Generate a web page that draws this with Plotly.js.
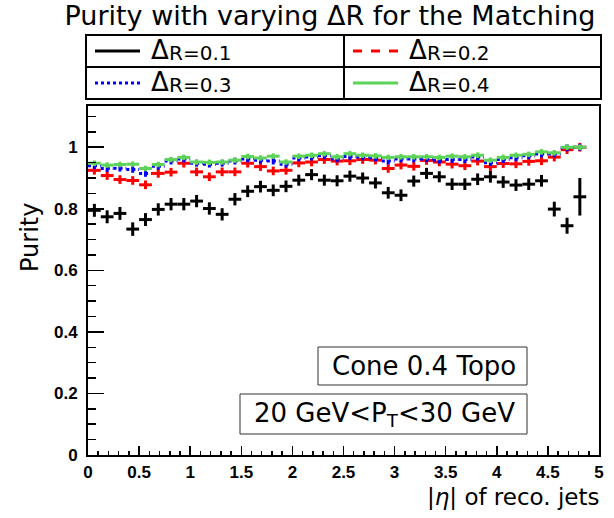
<!DOCTYPE html>
<html>
<head>
<meta charset="utf-8">
<script src="https://cdn.plot.ly/plotly-3.0.1.min.js"></script>
<style>
  html, body { margin: 0; padding: 0; background: #fff; }
  #chart { width: 614px; height: 518px; }
</style>
</head>
<body>
<div id="chart"></div>
<script>
// |eta| binning: 40 bins of width 0.125 between 0 and 5
const binWidth = 0.125;
const nBins = 40;

// Purity per |eta| bin for each matching cone size (null = empty bin)
const purityDR01 = [0.795, 0.774, 0.785, 0.734, 0.765, 0.798, 0.815, 0.815, 0.825, 0.801,
                    0.782, 0.831, 0.857, 0.872, 0.860, 0.873, 0.893, 0.911, 0.893, 0.891,
                    0.906, 0.900, 0.884, 0.852, 0.844, 0.890, 0.915, 0.904, 0.880, 0.880,
                    0.896, 0.904, 0.887, 0.877, 0.880, 0.891, 0.799, 0.745, 0.839, null];
const errDR01    = [0.021, 0.021, 0.021, 0.022, 0.021, 0.020, 0.020, 0.020, 0.020, 0.020,
                    0.020, 0.020, 0.019, 0.019, 0.019, 0.019, 0.018, 0.018, 0.018, 0.018,
                    0.018, 0.018, 0.018, 0.019, 0.019, 0.018, 0.018, 0.018, 0.019, 0.019,
                    0.019, 0.019, 0.019, 0.019, 0.019, 0.019, 0.024, 0.026, 0.061, null];

const purityDR02 = [0.925, 0.908, 0.895, 0.892, 0.878, 0.915, 0.919, 0.948, 0.920, 0.904,
                    0.920, 0.920, 0.948, 0.937, 0.923, 0.925, 0.949, 0.952, 0.960, 0.955,
                    0.956, 0.960, 0.958, 0.931, 0.942, 0.938, 0.957, 0.952, 0.945, 0.940,
                    0.955, 0.937, 0.947, 0.946, 0.954, 0.956, 0.968, 0.992, 1.000, null];
const errDR02    = 0.014;

const purityDR03 = [0.940, 0.931, 0.932, 0.928, 0.915, 0.938, 0.955, 0.962, 0.948, 0.945,
                    0.948, 0.955, 0.962, 0.958, 0.955, 0.945, 0.965, 0.968, 0.972, 0.962,
                    0.970, 0.968, 0.965, 0.955, 0.962, 0.962, 0.962, 0.958, 0.960, 0.960,
                    0.968, 0.950, 0.960, 0.966, 0.972, 0.978, 0.978, 0.998, 1.000, null];
const errDR03    = 0.011;

const purityDR04 = [0.948, 0.942, 0.944, 0.945, 0.931, 0.944, 0.960, 0.967, 0.952, 0.951,
                    0.952, 0.958, 0.970, 0.965, 0.971, 0.952, 0.971, 0.974, 0.979, 0.969,
                    0.979, 0.974, 0.972, 0.967, 0.969, 0.969, 0.969, 0.967, 0.971, 0.969,
                    0.974, 0.958, 0.967, 0.974, 0.977, 0.985, 0.982, 1.000, 1.000, null];
const errDR04    = 0.009;

const legendLabels = ['R=0.1', 'R=0.2', 'R=0.3', 'R=0.4'];
const seriesColors = ['#000000', '#ff0000', '#0000ff', '#5cd457'];

const binCenters = Array.from({length: nBins}, (_, i) => (i + 0.5) * binWidth);

// Histogram drawn as error crosses: bin width horizontally, stat error vertically
function crossTrace(values, errs, color) {
  const errArray = values.map((v, i) => Array.isArray(errs) ? errs[i] : errs);
  return {
    type: 'scatter', mode: 'markers',
    x: binCenters, y: values,
    marker: {size: 1, color: 'rgba(0,0,0,0)'},
    error_x: {type: 'constant', value: binWidth / 2, width: 0, thickness: 3, color: color},
    error_y: {type: 'data', array: errArray, width: 0, thickness: 3, color: color},
    hoverinfo: 'skip', showlegend: false
  };
}

// Dotted variant: horizontal bin segments as a dotted line, vertical errors as bars
function dottedTraces(values, err, color) {
  const xs = [], ys = [];
  values.forEach((v, i) => {
    if (v === null) return;
    xs.push(i * binWidth, (i + 1) * binWidth, null);
    ys.push(v, v, null);
  });
  return [
    {type: 'scatter', mode: 'lines', x: xs, y: ys,
     line: {color: color, width: 3, dash: 'dot'}, hoverinfo: 'skip', showlegend: false},
    {type: 'scatter', mode: 'markers', x: binCenters, y: values,
     marker: {size: 1, color: 'rgba(0,0,0,0)'},
     error_y: {type: 'constant', value: err, width: 0, thickness: 3, color: color},
     hoverinfo: 'skip', showlegend: false}
  ];
}

const traces = [
  crossTrace(purityDR01, errDR01, seriesColors[0]),
  crossTrace(purityDR02, errDR02, seriesColors[1]),
  ...dottedTraces(purityDR03, errDR03, seriesColors[2]),
  crossTrace(purityDR04, errDR04, seriesColors[3])
];

// pixel -> paper helpers for the frame at x 88..599, y 106..455
const FX0 = 88, FX1 = 599, FY0 = 106, FY1 = 455;
const px = x => (x - FX0) / (FX1 - FX0);
const py = y => (FY1 - y) / (FY1 - FY0);

const shapes = [];
const annotations = [];

// Legend box (2 x 2 cells)
const LX0 = 86, LX1 = 601, LXM = 344, LY0 = 35, LY1 = 99, LYM = 67;
const line = (x0, y0, x1, y1, color, width, dash) => ({
  type: 'line', xref: 'paper', yref: 'paper',
  x0: px(x0), y0: py(y0), x1: px(x1), y1: py(y1),
  line: {color: color, width: width, dash: dash || 'solid'}
});
shapes.push({type: 'rect', xref: 'paper', yref: 'paper',
  x0: px(LX0), y0: py(LY0), x1: px(LX1), y1: py(LY1),
  line: {color: '#000', width: 2}, fillcolor: '#fff'});
shapes.push(line(LXM, LY0, LXM, LY1, '#000', 2));
shapes.push(line(LX0, LYM, LX1, LYM, '#000', 2));

const cells = [
  {x: 95, y: 51}, {x: 353, y: 51},
  {x: 95, y: 83}, {x: 353, y: 83}
];
const dashes = ['solid', 'dash', 'dot', 'solid'];
cells.forEach((c, i) => {
  shapes.push(line(c.x, c.y, c.x + 45, c.y, seriesColors[i], 3, dashes[i]));
  // larger Greek delta followed by the label text
  annotations.push({
    xref: 'paper', yref: 'paper', x: px(c.x + 54), y: py(c.y - 1),
    xanchor: 'left', yanchor: 'middle', showarrow: false,
    text: 'Δ',
    font: {family: 'DejaVu Sans, sans-serif', size: 26, color: '#000'}
  });
  annotations.push({
    xref: 'paper', yref: 'paper', x: px(c.x + 72), y: py(c.y + 2),
    xanchor: 'left', yanchor: 'middle', showarrow: false,
    text: legendLabels[i],
    font: {family: 'DejaVu Sans, sans-serif', size: 20, color: '#000'}
  });
});

// Text boxes
const boxes = [
  {x0: 318, x1: 527, y0: 347, y1: 385, text: 'Cone 0.4 Topo'},
  {x0: 240, x1: 527, y0: 394, y1: 434, text: '20 GeV&lt;P<sub>T</sub>&lt;30 GeV'}
];
boxes.forEach(b => {
  shapes.push({type: 'rect', xref: 'paper', yref: 'paper',
    x0: px(b.x0), y0: py(b.y0), x1: px(b.x1), y1: py(b.y1),
    line: {color: '#333', width: 1}, fillcolor: '#fff', layer: 'above'});
  annotations.push({
    xref: 'paper', yref: 'paper', x: px((b.x0 + b.x1) / 2 + 1), y: py((b.y0 + b.y1) / 2),
    xanchor: 'center', yanchor: 'middle', showarrow: false, text: b.text,
    font: {family: 'DejaVu Sans, sans-serif', size: 26, color: '#000'}
  });
});

// Axis titles
annotations.push({
  xref: 'paper', yref: 'paper', x: px(601), y: py(497),
  xanchor: 'right', yanchor: 'middle', showarrow: false,
  text: '|<i>η</i>| of reco. jets',
  font: {family: 'DejaVu Sans, sans-serif', size: 23, color: '#000'}
});
annotations.push({
  xref: 'paper', yref: 'paper', x: px(30), y: py(238),
  xanchor: 'center', yanchor: 'middle', showarrow: false, textangle: -90,
  text: 'Purity',
  font: {family: 'DejaVu Sans, sans-serif', size: 24, color: '#000'}
});

const tickFont = {family: 'Liberation Sans, Arial, sans-serif', size: 17, color: '#000', weight: 'bold'};

const layout = {
  width: 614, height: 518,
  margin: {l: FX0, r: 614 - FX1, t: FY0, b: 518 - FY1, pad: 0},
  paper_bgcolor: '#fff', plot_bgcolor: '#fff',
  showlegend: false,
  title: {
    text: 'Purity with varying ΔR for the Matching',
    font: {family: 'DejaVu Sans, sans-serif', size: 27, color: '#000'},
    x: 330 / 614, xref: 'container', xanchor: 'center',
    y: 1 - 16 / 518, yref: 'container', yanchor: 'middle'
  },
  xaxis: {
    range: [0, 5], dtick: 0.5, tick0: 0,
    ticks: 'inside', ticklen: 9, tickwidth: 1.5, tickcolor: '#000',
    minor: {dtick: 0.1, tick0: 0, ticks: 'inside', ticklen: 4, tickwidth: 1.5, tickcolor: '#000'},
    showline: true, linecolor: '#000', linewidth: 2, mirror: true,
    showgrid: false, zeroline: false,
    tickfont: tickFont, ticklabelstandoff: 1
  },
  yaxis: {
    range: [0, 1.134], dtick: 0.2, tick0: 0,
    ticks: 'inside', ticklen: 16, tickwidth: 1.5, tickcolor: '#000',
    minor: {dtick: 0.05, tick0: 0, ticks: 'inside', ticklen: 8, tickwidth: 1.5, tickcolor: '#000'},
    showline: true, linecolor: '#000', linewidth: 2, mirror: true,
    showgrid: false, zeroline: false,
    tickfont: tickFont, ticklabelstandoff: 5
  },
  shapes: shapes,
  annotations: annotations
};

Plotly.newPlot('chart', traces, layout, {staticPlot: true, displayModeBar: false});
</script>
</body>
</html>
